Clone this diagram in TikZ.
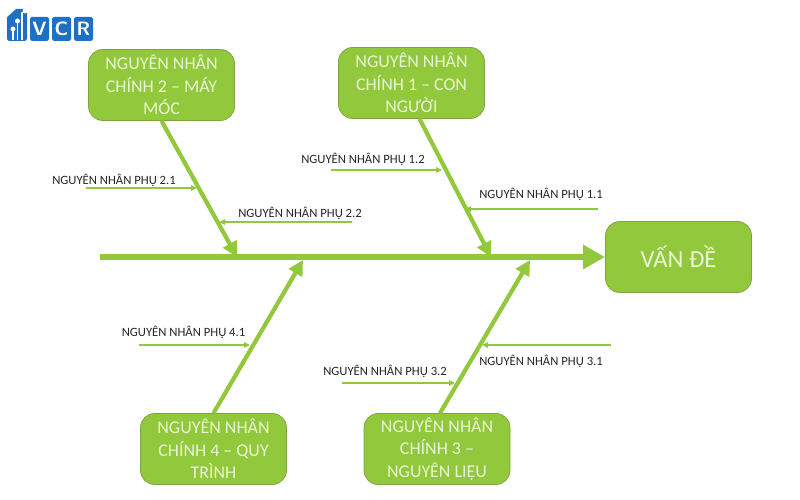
\documentclass[tikz,border=0pt]{standalone}
\usepackage{fontspec}
\setmainfont{Carlito}
\usepackage{tikz}
\usetikzlibrary{arrows.meta}
\definecolor{fishgreen}{HTML}{92C83C}
\definecolor{fishline}{HTML}{7FA33F}
\definecolor{boxtext}{HTML}{EAF5D5}
\definecolor{logoblue}{HTML}{1F6FC4}
\tikzstyle{cause}=[rectangle,rounded corners=8pt,draw=fishline,fill=fishgreen,text=boxtext,minimum width=2.92cm,minimum height=1.42cm,inner sep=0pt,align=center,font=\fontsize{10.2}{12.8}\selectfont]
\tikzstyle{problem}=[cause,minimum height=1.42cm,font=\fontsize{14}{16}\selectfont]
\tikzstyle{spine}=[draw=fishgreen,line width=3.8pt,-{Triangle[length=0.44cm,width=0.46cm]}]
\tikzstyle{rib}=[draw=fishgreen,line width=2.4pt,-{Triangle[length=0.3cm,width=0.3cm]}]
\tikzstyle{twig}=[draw=fishgreen,line width=1pt,-{Triangle[length=0.12cm,width=0.11cm]}]
\tikzstyle{sublabel}=[inner sep=0pt,text=black!85,font=\fontsize{7.2}{9}\selectfont]
\tikzstyle{logobox}=[rectangle,rounded corners=1pt,fill=logoblue,text=white,minimum width=0.38cm,minimum height=0.48cm,inner sep=0pt,font=\fontsize{11}{12}\selectfont\bfseries\sffamily]
\tikzstyle{logostem}=[draw=white,line width=0.7pt]
\begin{document}
\begin{tikzpicture}
        \useasboundingbox (0,0) rectangle (16,10);
        \node[logobox,minimum width=0.4cm,minimum height=0.64cm] (logo0) at (0.34, 9.5) {};
        \node[logobox] (logo1) at (0.79, 9.42) {V};
        \node[logobox] (logo2) at (1.23, 9.42) {C};
        \node[logobox] (logo3) at (1.67, 9.42) {R};
        \fill[white] (0.14, 9.84) -- (0.14, 9.66) -- (0.34, 9.84) -- cycle;
        \path[logostem] (0.26, 9.42) -- (0.26, 9.2);
        \path[logostem] (0.35, 9.58) -- (0.35, 9.2);
        \path[logostem] (0.44, 9.76) -- (0.44, 9.2);
        \fill[white] (0.26, 9.42) circle (0.05);
        \fill[white] (0.35, 9.58) circle (0.05);
        \fill[white] (0.5, 9.78) circle (0.05);
        \node[cause] (cause2) at (3.23, 8.30) {NGUYÊN NHÂN\\CHÍNH 2 – MÁY\\MÓC};
        \node[cause] (cause1) at (8.23, 8.34) {NGUYÊN NHÂN\\CHÍNH 1 – CON\\NGƯỜI};
        \node[cause] (cause4) at (4.27, 1.02) {NGUYÊN NHÂN\\CHÍNH 4 – QUY\\TRÌNH};
        \node[cause] (cause3) at (8.74, 1.02) {NGUYÊN NHÂN\\CHÍNH 3 –\\NGUYÊN LIỆU};
        \node[problem] (goal) at (13.57, 4.86) {VẤN ĐỀ};
        \coordinate (tail) at (2.0, 4.86);
        \coordinate (joint2) at (4.74, 4.86);
        \coordinate (joint1) at (9.82, 4.86);
        \coordinate (joint4) at (6.06, 4.80);
        \coordinate (joint3) at (10.6, 4.80);
        \path[spine] (tail) -- (goal.west);
        \path[rib] (cause2.south) -- (joint2);
        \path[rib] ([xshift=0.16cm]cause1.south) -- (joint1);
        \path[rib] (cause4.north) -- (joint4);
        \path[rib] ([xshift=0.06cm]cause3.north) -- (joint3);
        \coordinate (start21) at (1.72, 6.24);
        \coordinate (end21) at (3.94, 6.24);
        \coordinate (start22) at (7.04, 5.56);
        \coordinate (end22) at (4.38, 5.56);
        \coordinate (start12) at (6.62, 6.60);
        \coordinate (end12) at (8.84, 6.60);
        \coordinate (start11) at (11.96, 5.82);
        \coordinate (end11) at (9.30, 5.82);
        \coordinate (start41) at (2.78, 3.10);
        \coordinate (end41) at (5.00, 3.10);
        \coordinate (start32) at (6.84, 2.34);
        \coordinate (end32) at (9.10, 2.34);
        \coordinate (start31) at (12.22, 3.10);
        \coordinate (end31) at (9.64, 3.10);
        \path[twig] (start21) -- (end21);
        \path[twig] (start22) -- (end22);
        \path[twig] (start12) -- (end12);
        \path[twig] (start11) -- (end11);
        \path[twig] (start41) -- (end41);
        \path[twig] (start32) -- (end32);
        \path[twig] (start31) -- (end31);
        \node[sublabel] (label21) at (2.28, 6.40) {NGUYÊN NHÂN PHỤ 2.1};
        \node[sublabel] (label22) at (6.00, 5.73) {NGUYÊN NHÂN PHỤ 2.2};
        \node[sublabel] (label12) at (7.26, 6.81) {NGUYÊN NHÂN PHỤ 1.2};
        \node[sublabel] (label11) at (10.82, 6.11) {NGUYÊN NHÂN PHỤ 1.1};
        \node[sublabel] (label41) at (3.67, 3.35) {NGUYÊN NHÂN PHỤ 4.1};
        \node[sublabel] (label32) at (7.70, 2.57) {NGUYÊN NHÂN PHỤ 3.2};
        \node[sublabel] (label31) at (10.82, 2.77) {NGUYÊN NHÂN PHỤ 3.1};
    \end{tikzpicture}
\end{document}
